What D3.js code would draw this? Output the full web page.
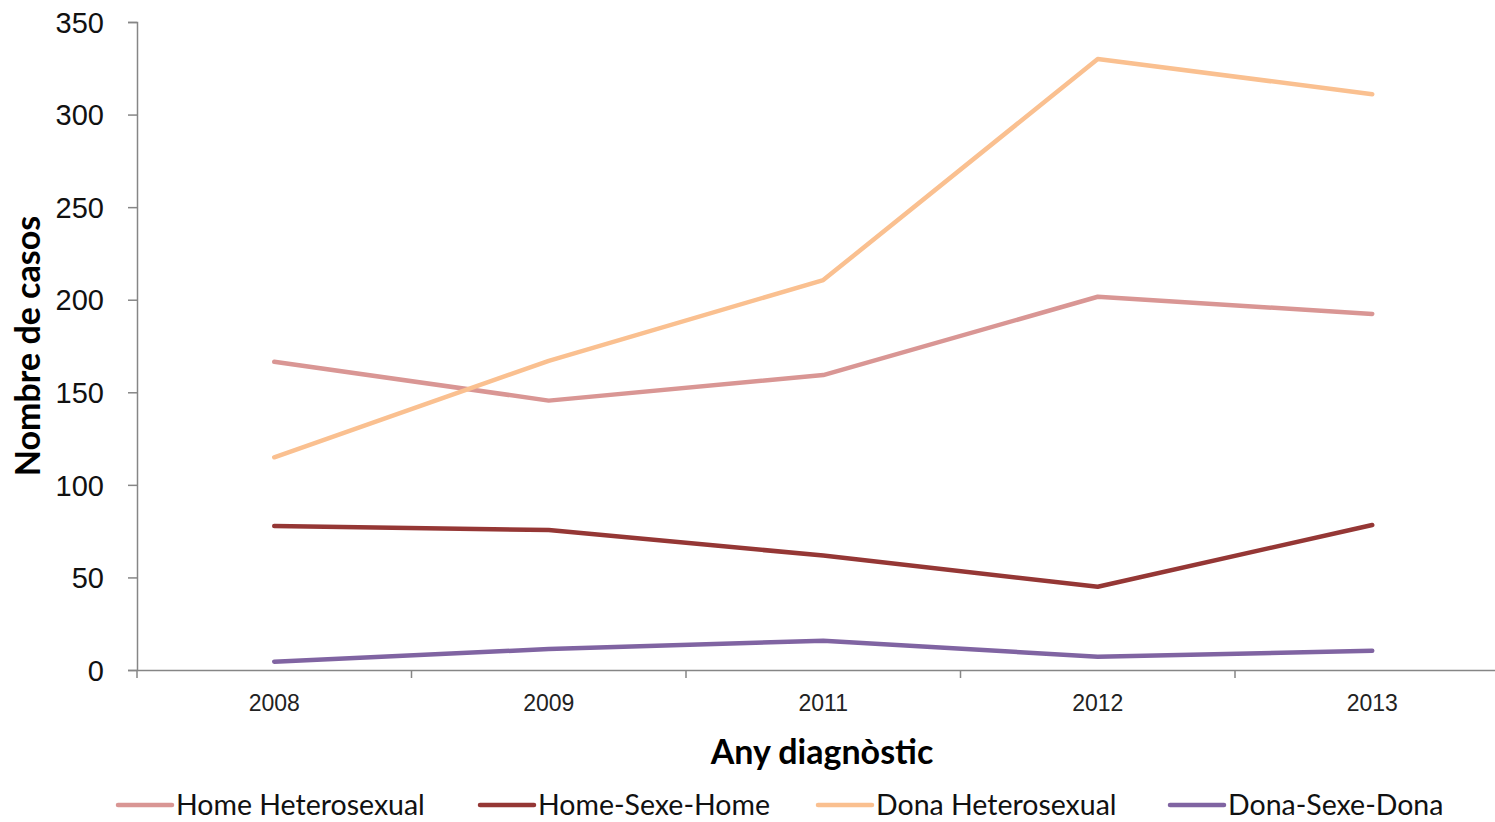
<!DOCTYPE html>
<html><head><meta charset="utf-8">
<script src="https://cdn.jsdelivr.net/npm/d3@7"></script>
<style>body{margin:0;background:#fff;} svg{display:block;font-family:Lato,"Open Sans",sans-serif;}</style>
</head><body><svg id="c" width="1495" height="822"></svg>
<script>
const years = ["2008","2009","2011","2012","2013"];
const seriesNames = ["Home Heterosexual","Home-Sexe-Home","Dona Heterosexual","Dona-Sexe-Dona"];
const homeHetero = [166.5,145.5,159.3,201.6,192.3];
const homeSexeHome = [77.8,75.6,61.8,45,78.3];
const donaHetero = [114.9,167,210.6,330,311];
const donaSexeDona = [4.5,11.3,15.8,7.2,10.4];
const yTicks = [0,50,100,150,200,250,300,350];
const colors = ["#d99694","#953735","#fac090","#8064a2"];

const seriesVals = [homeHetero, homeSexeHome, donaHetero, donaSexeDona];
const svg = d3.select("#c");
const L = 137, R = 1509.5, T = 22, B = 670;
const x = d3.scaleBand().domain(years).range([L,R]);
const y = d3.scaleLinear().domain([0,350]).range([B,T]);

// y axis
const ya = svg.append("g").attr("transform",`translate(${L},0)`)
  .call(d3.axisLeft(y).tickValues(yTicks).tickSize(9).tickPadding(24));
ya.select(".domain").attr("stroke","#868686").attr("stroke-width",1.5);
ya.selectAll(".tick line").attr("stroke","#868686").attr("stroke-width",1.5);
ya.selectAll("text").attr("font-size",29).attr("fill","#111").attr("dy","0.35em");

// x axis
const xa = svg.append("g").attr("transform",`translate(0,${B})`)
  .call(d3.axisBottom(x).tickSize(0).tickPadding(25));
xa.select(".domain").attr("stroke","#868686").attr("stroke-width",1.5);
xa.selectAll("text").attr("font-size",23).attr("fill","#222");
// boundary ticks between categories
const bounds = years.map(d=>x(d)).concat([R]);
svg.append("g").selectAll("line").data(bounds).join("line")
  .attr("x1",d=>d).attr("x2",d=>d).attr("y1",B).attr("y2",B+8)
  .attr("stroke","#868686").attr("stroke-width",1.5);

// lines
const line = d3.line().x((d,i)=>x(years[i])+x.bandwidth()/2).y(d=>y(d));
svg.append("g").selectAll("path").data(seriesVals).join("path")
  .attr("d",line).attr("fill","none").attr("stroke",(d,i)=>colors[i])
  .attr("stroke-width",4.5).attr("stroke-linejoin","round").attr("stroke-linecap","round");

// axis titles
svg.append("text").attr("x",822).attr("y",764).attr("text-anchor","middle")
  .attr("font-size",34).attr("font-weight","bold").text("Any diagnòstic");
svg.append("text").attr("transform","translate(40,346) rotate(-90)").attr("text-anchor","middle")
  .attr("font-size",34).attr("font-weight","bold").text("Nombre de casos");

// legend
const legX = [118,480,818,1170];
const lg = svg.append("g").selectAll("g").data(seriesNames).join("g")
  .attr("transform",(d,i)=>`translate(${legX[i]},805)`);
lg.append("line").attr("x1",0).attr("x2",54).attr("y1",0).attr("y2",0)
  .attr("stroke",(d,i)=>colors[i]).attr("stroke-width",4.5).attr("stroke-linecap","round");
lg.append("text").attr("x",58).attr("y",0).attr("dy","0.34em").attr("font-size",28.5).attr("fill","#111").text(d=>d);
</script></body></html>
